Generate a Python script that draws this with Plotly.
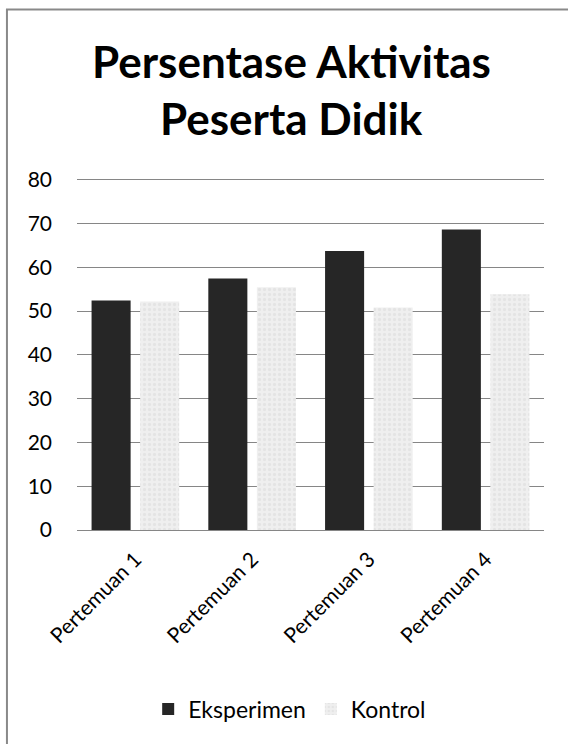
import plotly.graph_objects as go

categories = ["Pertemuan 1", "Pertemuan 2", "Pertemuan 3", "Pertemuan 4"]
eksperimen = [52.4, 57.4, 63.7, 68.6]
kontrol = [52.2, 55.4, 50.8, 53.8]
y_ticks = [0, 10, 20, 30, 40, 50, 60, 70, 80]
title_lines = ["Persentase Aktivitas", "Peserta Didik"]

FONT = "Lato"
Y_MAX = 80.6
PLOT_H = 350 * Y_MAX / 80  # pixel height so that 0..80 spans 350 px
TOP = 530 - PLOT_H

fig = go.Figure()
fig.add_trace(go.Bar(
    x=categories, y=eksperimen, name="Eksperimen",
    marker=dict(color="#262626", line=dict(width=0)),
))
fig.add_trace(go.Bar(
    x=categories, y=kontrol, name="Kontrol",
    marker=dict(
        color="#ededed", line=dict(width=0),
        pattern=dict(shape=".", fgcolor="#d9d9d9", bgcolor="#efefef", size=5, solidity=0.35),
    ),
))

def py(pix):
    return (530 - pix) / PLOT_H

fig.update_layout(
    width=568, height=744,
    margin=dict(l=77, r=24, t=TOP, b=214),
    paper_bgcolor="white", plot_bgcolor="white",
    font=dict(family=FONT, color="black", size=19),
    barmode="group", bargap=0.168, bargroupgap=0.196,
    showlegend=True,
    legend=dict(
        orientation="h", xref="container", yref="container",
        x=0.51, xanchor="center", y=0.047, yanchor="middle",
        font=dict(family=FONT, size=23), itemwidth=30, traceorder="normal",
    ),
    yaxis=dict(
        range=[0, Y_MAX], tickvals=y_ticks, showgrid=True, gridcolor="#868686", gridwidth=1,
        zeroline=True, zerolinecolor="#868686", zerolinewidth=1,
        showline=False, ticks="", ticklabelstandoff=24,
        tickfont=dict(family=FONT, size=21),
    ),
    xaxis=dict(
        tickangle=-45, showline=False, ticks="", showgrid=False,
        tickfont=dict(family=FONT, size=21), ticklabelstandoff=12,
    ),
    shapes=[dict(
        type="rect", xref="paper", yref="paper",
        x0=-0.150, x1=1.3, y0=py(760), y1=py(10),
        line=dict(color="#898989", width=2), fillcolor="rgba(0,0,0,0)", layer="below",
    )],
    annotations=[
        dict(
            text="<b>" + title_lines[0] + "</b>", xref="paper", yref="paper",
            x=(291 - 77) / 466.5, y=py(61), xanchor="center", yanchor="middle",
            showarrow=False, font=dict(family=FONT, size=44, color="black"),
        ),
        dict(
            text="<b>" + title_lines[1] + "</b>", xref="paper", yref="paper",
            x=(291 - 77) / 466.5, y=py(118), xanchor="center", yanchor="middle",
            showarrow=False, font=dict(family=FONT, size=44, color="black"),
        ),
    ],
)

fig.write_html("out.html")
